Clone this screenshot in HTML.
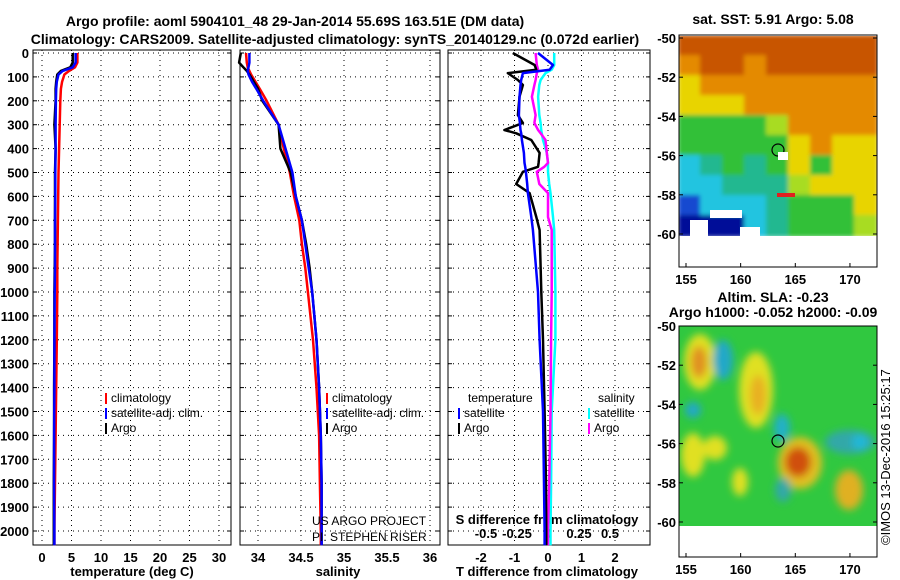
<!DOCTYPE html>
<html><head><meta charset="utf-8"><style>
html,body{margin:0;padding:0;background:#fff;}
svg{display:block;font-family:"Liberation Sans",Arial,sans-serif;}
.t{font-weight:bold;font-size:14px;}
.tk{font-weight:bold;font-size:13px;}
.lg{font-size:12px;}
</style></head><body>
<svg id="s" width="900" height="580" viewBox="0 0 900 580" xmlns="http://www.w3.org/2000/svg">
<defs>
<filter id="bl2" x="-20%" y="-20%" width="140%" height="140%"><feGaussianBlur stdDeviation="4"/></filter>
<filter id="bl1" x="-5%" y="-5%" width="110%" height="110%"><feGaussianBlur stdDeviation="2"/></filter>
<clipPath id="c1"><rect x="679" y="36" width="198" height="200"/></clipPath>
<clipPath id="c2"><rect x="679" y="326" width="198" height="200"/></clipPath>
</defs>
<text class="t" x="295" y="26" text-anchor="middle">Argo profile: aoml 5904101_48 29-Jan-2014 55.69S 163.51E (DM data)</text>
<text class="t" x="335" y="44" text-anchor="middle">Climatology: CARS2009. Satellite-adjusted climatology: synTS_20140129.nc (0.072d earlier)</text>

<g>
<g clip-path="url(#c1)"><g id="m1" filter="url(#bl1)"></g>
<rect x="710" y="210" width="32" height="8" fill="#fff"/>
<rect x="690" y="220" width="18" height="16" fill="#fff"/>
<rect x="740" y="227" width="20" height="9" fill="#fff"/>
<rect x="777" y="193" width="18" height="4" fill="#e02020"/>
<circle cx="778" cy="150" r="6" fill="none" stroke="#000" stroke-width="1.2"/>
<rect x="778" y="152" width="10" height="8" fill="#fff"/>
</g>
<rect x="679" y="35" width="198" height="232" fill="none" stroke="#000"/>
</g>
<text class="t" x="773" y="24" text-anchor="middle">sat. SST: 5.91  Argo: 5.08</text>

<g>
<g clip-path="url(#c2)">
<rect x="679" y="326" width="198" height="200" fill="#30c840"/>
<g filter="url(#bl2)">
<ellipse cx="700" cy="362" rx="16" ry="28" fill="#e0e020"/>
<ellipse cx="699" cy="362" rx="8" ry="16" fill="#e09020"/>
<ellipse cx="723" cy="360" rx="10" ry="20" fill="#20a8c8"/>
<ellipse cx="756" cy="390" rx="17" ry="38" fill="#e0e020"/>
<ellipse cx="758" cy="395" rx="8" ry="20" fill="#e8b020"/>
<ellipse cx="693" cy="455" rx="12" ry="22" fill="#e0e020"/>
<ellipse cx="715" cy="448" rx="12" ry="12" fill="#e0e020"/>
<ellipse cx="782" cy="428" rx="8" ry="14" fill="#20b0c8"/>
<ellipse cx="800" cy="463" rx="22" ry="26" fill="#e0c020"/>
<ellipse cx="798" cy="462" rx="13" ry="15" fill="#d05010"/>
<ellipse cx="849" cy="490" rx="14" ry="20" fill="#e0b020"/>
<ellipse cx="850" cy="442" rx="25" ry="12" fill="#30a8a8"/>
<ellipse cx="860" cy="442" rx="8" ry="8" fill="#20b8d8"/>
<ellipse cx="783" cy="490" rx="8" ry="12" fill="#30a8a8"/>
<ellipse cx="740" cy="482" rx="8" ry="14" fill="#e0e020"/>
<ellipse cx="693" cy="410" rx="8" ry="8" fill="#20a8c8"/>
</g>
<circle cx="778" cy="441" r="6" fill="none" stroke="#000" stroke-width="1.2"/>
</g>
<rect x="679" y="326" width="198" height="231" fill="none" stroke="#000"/>
</g>
<text class="t" x="773" y="302" text-anchor="middle">Altim. SLA: -0.23</text>
<text class="t" x="773" y="317" text-anchor="middle">Argo h1000: -0.052 h2000: -0.09</text>
<text x="890" y="545" transform="rotate(-90 890 545)" font-size="13">©IMOS 13-Dec-2016 15:25:17</text>
<g id="g"></g>
</svg>
<script>
// ---- data ----
var depthAxisTicks=[0,100,200,300,400,500,600,700,800,900,1000,1100,1200,1300,1400,1500,1600,1700,1800,1900,2000];
var tempTicks=[0,5,10,15,20,25,30];
var salTicks=[34,34.5,35,35.5,36];
var salTickLabels=["34","34.5","35","35.5","36"];
var tdiffTicks=[-2,-1,0,1,2];
var sdiffTicks=[-0.5,-0.25,0,0.25,0.5];
var sdiffTickLabels=["-0.5","-0.25","0","0.25","0.5"];
var depths=[0,40,60,75,90,120,150,200,300,400,500,600,700,800,900,1000,1200,1400,1600,1800,2000,2060];
var tempClim=[6.0,6.0,5.6,4.6,3.8,3.4,3.2,3.1,3.0,2.9,2.8,2.75,2.7,2.65,2.6,2.6,2.5,2.4,2.3,2.2,2.1,2.1];
var tempSat=[5.7,5.7,5.2,3.5,2.8,2.5,2.4,2.35,2.3,2.3,2.25,2.25,2.2,2.2,2.2,2.15,2.1,2.1,2.05,2.05,2.1,2.1];
var tempArgo=[5.2,5.2,4.8,3.2,2.6,2.4,2.3,2.3,2.1,2.3,2.2,2.2,2.2,2.2,2.15,2.1,2.1,2.05,2.05,2.0,2.0,2.0];
var salClim=[33.86,33.87,33.88,33.9,33.92,33.97,34.02,34.1,34.24,34.3,34.37,34.42,34.48,34.51,34.55,34.58,34.64,34.68,34.71,34.72,34.73,34.73];
var salSat=[33.9,33.9,33.89,33.88,33.89,33.93,33.98,34.06,34.24,34.32,34.4,34.44,34.51,34.55,34.59,34.63,34.68,34.71,34.73,34.74,34.74,34.74];
var salArgo=[33.8,33.78,33.83,33.87,33.9,33.95,34.0,34.05,34.24,34.26,34.38,34.44,34.51,34.56,34.6,34.63,34.68,34.71,34.73,34.74,34.74,34.74];
var diffDepths=[0,50,70,84,113,134,183,260,293,322,336,364,418,460,476,497,548,586,686,740,1000,1200,1500,1800,2000,2060];
var tdiffArgo=[-1.05,-0.4,-0.35,-1.2,-0.9,-0.75,-0.85,-0.9,-0.75,-1.3,-0.95,-0.5,-0.25,-0.28,-0.3,-0.75,-0.95,-0.55,-0.35,-0.25,-0.2,-0.15,-0.1,-0.06,-0.05,-0.05];
var tdiffSat=[-0.3,0.15,0.05,-0.75,-0.8,-0.82,-0.85,-0.87,-0.84,-0.82,-0.8,-0.78,-0.72,-0.7,-0.68,-0.66,-0.62,-0.6,-0.5,-0.45,-0.3,-0.25,-0.15,-0.12,-0.1,-0.1];
var sdiffArgo=[-0.1,-0.09,-0.08,-0.09,-0.1,-0.11,-0.13,-0.1,-0.11,-0.08,-0.06,-0.02,-0.01,0,-0.03,-0.09,-0.07,0,0,0.03,0.03,0.025,0.02,0.01,0,0];
var sdiffSat=[0.05,0.05,0.03,-0.02,-0.06,-0.07,-0.08,-0.07,-0.06,-0.055,-0.05,-0.04,-0.01,0,0,0,0.01,0.02,0.04,0.05,0.06,0.06,0.03,0.025,0.02,0.02];
// SST map coarse field (rows top->bottom, 9 columns)
var sstRows=["DDDDDDDDD","ODDODDDDD","YOOOOOOOO","YYYOOOOOO","GGGGLOOOO","GGGGGYOYY","CTGTGYGYY","CCTTTLYYY","BCCCTGGGY","NNNCTGGGL"];
var sstColors={D:"#c85400",O:"#e48a00",Y:"#e8d400",L:"#a8dc20",G:"#30c038",T:"#20b890",C:"#20c4e0",B:"#1848d0",N:"#000898"};
// ---- axes ----
var Y0=53,YK=0.239;
function yD(d){return Y0+d*YK;}
function xT(v){return 42+v*5.9;}
function xS(v){return 258+(v-34)*86;}
function xTD(v){return 548+v*33.5;}
function xSD(v){return 548+v*124;}
var NS="http://www.w3.org/2000/svg",G=document.getElementById('g');
function el(t,a,txt,par){var e=document.createElementNS(NS,t);for(var k in a)e.setAttribute(k,a[k]);if(txt!=null)e.textContent=txt;(par||G).appendChild(e);return e;}
var M1=document.getElementById('m1');
sstRows.forEach(function(row,r){
  for(var c=0;c<row.length;c++){
    var cell=el('rect',{x:679+c*22-1,y:36+r*20-1,width:24,height:22,fill:sstColors[row[c]]},null,M1);
    
    
  }
});
var panels=[{x0:33,x1:231,name:'temperature-panel'},{x0:240,x1:440,name:'salinity-panel'},{x0:448,x1:650,name:'difference-panel'}];
panels.forEach(function(p,i){
  var r=el('rect',{x:p.x0,y:50,width:p.x1-p.x0,height:495,fill:'none',stroke:'#000'});
  
  
  depthAxisTicks.forEach(function(d){
    el('line',{x1:p.x0,x2:p.x1,y1:yD(d),y2:yD(d),stroke:'#000','stroke-dasharray':'1,4'});
    el('line',{x1:p.x0,x2:p.x0+4,y1:yD(d),y2:yD(d),stroke:'#000'});
    el('line',{x1:p.x1-4,x2:p.x1,y1:yD(d),y2:yD(d),stroke:'#000'});
  });
});
depthAxisTicks.forEach(function(d){
  var t=el('text',{x:29,y:yD(d)+5,'text-anchor':'end','class':'tk'},String(d));
  
  
});
function xticks(ticks,labels,fx,p,ylab,dash){
  ticks.forEach(function(v,i){
    var x=fx(v);
    if(dash)el('line',{x1:x,x2:x,y1:50,y2:545,stroke:'#000','stroke-dasharray':'1,4'});
    var t=el('text',{x:x,y:ylab,'text-anchor':'middle','class':'tk'},labels?labels[i]:String(v));
    
    
  });
}
xticks(tempTicks,null,xT,panels[0],562,true);
xticks(salTicks,salTickLabels,xS,panels[1],562,true);
xticks(tdiffTicks,null,xTD,panels[2],562,true);
xticks(sdiffTicks,sdiffTickLabels,xSD,panels[2],538,false);
function lbl(x,y,s,n){var t=el('text',{x:x,y:y,'text-anchor':'middle','class':'tk'},s);}
lbl(132,576,'temperature (deg C)','temperature-axis-title');
lbl(338,576,'salinity','salinity-axis-title');
lbl(547,576,'T difference from climatology','t-diff-axis-title');
lbl(547,524,'S difference from climatology','s-diff-axis-title');
function line(ds,vals,fx,col,n){
  var d='';ds.forEach(function(z,i){d+=(i?'L':'M')+fx(vals[i]).toFixed(1)+','+yD(z).toFixed(1);});
  var p=el('path',{d:d,fill:'none',stroke:col,'stroke-width':2.5,'stroke-linejoin':'round'});
  
  
}
line(depths,tempClim,xT,'#f00','temp-climatology-line');
line(depths,tempArgo,xT,'#000','temp-argo-line');
line(depths,tempSat,xT,'#00f','temp-satellite-line');
line(depths,salClim,xS,'#f00','sal-climatology-line');
line(depths,salArgo,xS,'#000','sal-argo-line');
line(depths,salSat,xS,'#00f','sal-satellite-line');
line(diffDepths,sdiffSat,xSD,'#0ff','sdiff-satellite-line');
line(diffDepths,sdiffArgo,xSD,'#f0f','sdiff-argo-line');
line(diffDepths,tdiffArgo,xTD,'#000','tdiff-argo-line');
line(diffDepths,tdiffSat,xTD,'#00f','tdiff-satellite-line');
function leg(x,y,col,s){
  el('rect',{x:x,y:y-9,width:2,height:11,fill:col});
  var t=el('text',{x:x+6,y:y,'class':'lg'},s);
  
  
}
leg(105,402,'#f00','climatology');leg(105,417,'#00f','satellite-adj. clim.');leg(105,432,'#000','Argo');
leg(326,402,'#f00','climatology');leg(326,417,'#00f','satellite-adj. clim.');leg(326,432,'#000','Argo');
var tl=el('text',{x:468,y:402,'class':'lg'},'temperature');
var sl=el('text',{x:598,y:402,'class':'lg'},'salinity');
leg(458,417,'#00f','satellite');leg(458,432,'#000','Argo');
leg(588,417,'#0ff','satellite');leg(588,432,'#f0f','Argo');
var c1=el('text',{x:312,y:525,'class':'lg'},'US ARGO PROJECT');
var c2=el('text',{x:312,y:541,'class':'lg'},'PI: STEPHEN RISER');
// map axes
var latTicks=[-50,-52,-54,-56,-58,-60];
var lonTicks=[155,160,165,170];
[[38,234,267,284],[326,522,557,574]].forEach(function(m){
  latTicks.forEach(function(v){
    var y=m[0]+(-50-v)/10*(m[1]-m[0]);
    el('line',{x1:679,x2:683,y1:y,y2:y,stroke:'#000'});
    el('line',{x1:873,x2:877,y1:y,y2:y,stroke:'#000'});
    var t=el('text',{x:676,y:y+5,'text-anchor':'end','class':'tk'},String(v));
    
  });
  lonTicks.forEach(function(v){
    var x=686+(v-155)*10.93;
    el('line',{x1:x,x2:x,y1:m[2]-4,y2:m[2],stroke:'#000'});
    var t=el('text',{x:x,y:m[3],'text-anchor':'middle','class':'tk'},String(v));
    
  });
});
</script>
</body></html>
